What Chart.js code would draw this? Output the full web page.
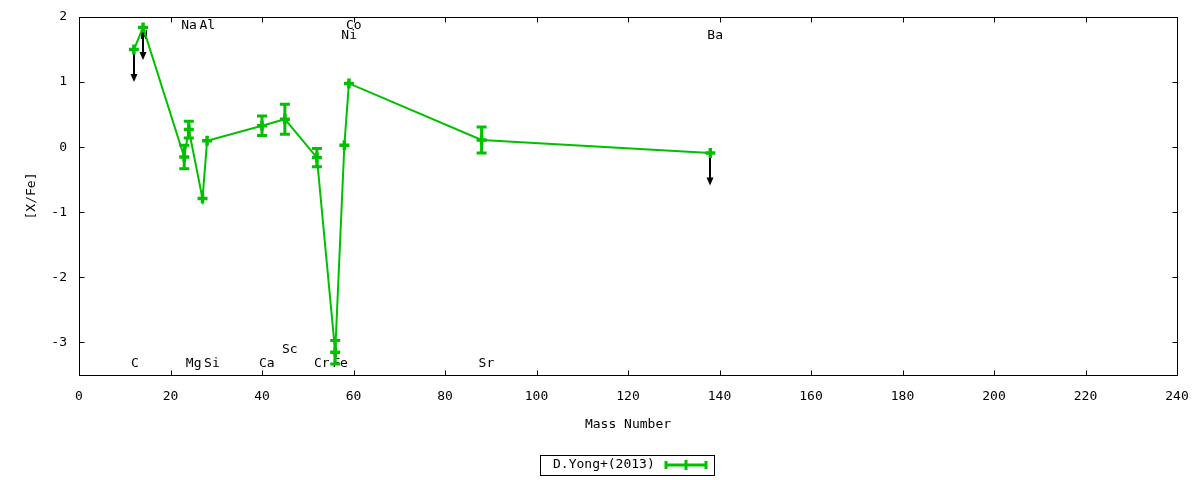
<!DOCTYPE html>
<html>
<head>
<meta charset="utf-8">
<script src="https://cdn.jsdelivr.net/npm/chart.js@4.4.1/dist/chart.umd.min.js"></script>
<style>
    html, body { margin: 0; padding: 0; background: #fff; }
</style>
</head>
<body>
<canvas id="abundChart" width="1200" height="480"></canvas>
<script>
// abundances, D.Yong+(2013)
var elements   = ['C', 'N', 'Na', 'Mg', 'Al', 'Si', 'Ca', 'Sc', 'Cr', 'Fe', 'Ni', 'Co', 'Sr', 'Ba'];
var massNumber = [12, 14, 23, 24, 27, 28, 40, 45, 52, 56, 58, 59, 88, 138];
var xfe        = [1.50, 1.84, -0.15, 0.27, -0.79, 0.10, 0.33, 0.43, -0.16, -3.15, 0.03, 0.98, 0.11, -0.09];
var xfeErr     = [0, 0, 0.18, 0.13, 0, 0, 0.15, 0.23, 0.14, 0.18, 0, 0, 0.20, 0];
var upperLimit = [true, true, false, false, false, false, false, false, false, false, false, false, false, true];
var limitDrop  = 0.5;
// where the element names sit, in [X/Fe] units
var labelY     = [-3.33, 1.72, 1.87, -3.33, 1.87, -3.33, -3.33, -3.11, -3.33, -3.33, 1.72, 1.87, -3.33, 1.72];
var xTicks     = [0, 20, 40, 60, 80, 100, 120, 140, 160, 180, 200, 220, 240];
var yTicks     = [-3, -2, -1, 0, 1, 2];
var seriesName = 'D.Yong+(2013)';

var green = '#00c000';
var monoFont = '"DejaVu Sans Mono", "Liberation Mono", monospace';

var points = massNumber.map(function (a, i) { return {x: a, y: xfe[i]}; });

var gnuplotLook = {
    id: 'gnuplotLook',
    beforeDatasetsDraw: function (chart) {
        var ctx = chart.ctx, sx = chart.scales.x, sy = chart.scales.y;
        ctx.save();
        // element names
        ctx.font = '13px ' + monoFont;
        ctx.fillStyle = '#000';
        ctx.textAlign = 'left';
        ctx.textBaseline = 'middle';
        elements.forEach(function (el, i) {
            ctx.fillText(el, sx.getPixelForValue(massNumber[i]) - 3, sy.getPixelForValue(labelY[i]));
        });
        // upper limit arrows
        ctx.strokeStyle = '#000';
        ctx.fillStyle = '#000';
        ctx.lineWidth = 2;
        for (var i = 0; i < massNumber.length; i++) {
            if (!upperLimit[i]) continue;
            var px = Math.round(sx.getPixelForValue(massNumber[i]));
            var y0 = sy.getPixelForValue(xfe[i]);
            var y1 = sy.getPixelForValue(xfe[i] - limitDrop);
            ctx.beginPath();
            ctx.moveTo(px, y0);
            ctx.lineTo(px, y1 - 6);
            ctx.stroke();
            ctx.beginPath();
            ctx.moveTo(px - 3.5, y1 - 8);
            ctx.lineTo(px + 3.5, y1 - 8);
            ctx.lineTo(px, y1);
            ctx.closePath();
            ctx.fill();
        }
        // error bars
        ctx.strokeStyle = green;
        ctx.lineWidth = 3;
        for (var j = 0; j < massNumber.length; j++) {
            if (!xfeErr[j]) continue;
            var ex = sx.getPixelForValue(massNumber[j]);
            var top = sy.getPixelForValue(xfe[j] + xfeErr[j]);
            var bot = sy.getPixelForValue(xfe[j] - xfeErr[j]);
            ctx.beginPath();
            ctx.moveTo(ex, top); ctx.lineTo(ex, bot);
            ctx.moveTo(ex - 5, top); ctx.lineTo(ex + 5, top);
            ctx.moveTo(ex - 5, bot); ctx.lineTo(ex + 5, bot);
            ctx.stroke();
        }
        ctx.restore();
    },
    afterDraw: function (chart) {
        var ctx = chart.ctx, a = chart.chartArea, sx = chart.scales.x, sy = chart.scales.y;
        ctx.save();
        ctx.strokeStyle = '#000';
        ctx.lineWidth = 1;
        var l = Math.round(a.left) + 0.5, r = Math.round(a.right) + 0.5;
        var t = Math.round(a.top) + 0.5, b = Math.round(a.bottom) + 0.5;
        ctx.strokeRect(l, t, r - l, b - t);
        // inward ticks, mirrored
        ctx.beginPath();
        xTicks.forEach(function (v) {
            var px = Math.round(sx.getPixelForValue(v)) + 0.5;
            ctx.moveTo(px, b); ctx.lineTo(px, b - 5);
            ctx.moveTo(px, t); ctx.lineTo(px, t + 5);
        });
        yTicks.forEach(function (v) {
            var py = Math.round(sy.getPixelForValue(v)) + 0.5;
            ctx.moveTo(l, py); ctx.lineTo(l + 5, py);
            ctx.moveTo(r, py); ctx.lineTo(r - 5, py);
        });
        ctx.stroke();
        // key box
        ctx.strokeRect(540.5, 455.5, 174, 20);
        ctx.font = '13px ' + monoFont;
        ctx.fillStyle = '#000';
        ctx.textAlign = 'left';
        ctx.textBaseline = 'middle';
        ctx.fillText(seriesName, 553, 465);
        ctx.strokeStyle = green;
        ctx.lineWidth = 3;
        ctx.beginPath();
        ctx.moveTo(665, 465); ctx.lineTo(707, 465);
        ctx.moveTo(666, 461); ctx.lineTo(666, 469);
        ctx.moveTo(706, 461); ctx.lineTo(706, 469);
        ctx.moveTo(686, 460); ctx.lineTo(686, 470);
        ctx.stroke();
        ctx.restore();
    }
};

new Chart(document.getElementById('abundChart').getContext('2d'), {
    type: 'scatter',
    data: {
        datasets: [{
            label: seriesName,
            data: points,
            showLine: true,
            borderColor: green,
            borderWidth: 2,
            backgroundColor: green,
            pointStyle: 'cross',
            pointRadius: 5,
            pointBorderWidth: 3.5,
            pointBorderColor: green,
            tension: 0
        }]
    },
    options: {
        responsive: false,
        animation: false,
        devicePixelRatio: 1,
        layout: { padding: { left: 20, right: 23, top: 17, bottom: 44 } },
        plugins: {
            legend: { display: false },
            tooltip: { enabled: false }
        },
        scales: {
            x: {
                type: 'linear',
                min: 0,
                max: 240,
                afterBuildTicks: function (s) { s.ticks = xTicks.map(function (v) { return {value: v}; }); },
                afterFit: function (s) { s.height = 61; s.paddingLeft = 0; s.paddingRight = 0; },
                grid: { display: false, drawTicks: false },
                border: { display: false },
                ticks: { color: '#000', padding: 14, font: { family: monoFont, size: 13 }, maxRotation: 0 },
                title: { display: true, text: 'Mass Number', color: '#000', font: { family: monoFont, size: 13 } }
            },
            y: {
                type: 'linear',
                min: -3.5,
                max: 2,
                afterBuildTicks: function (s) { s.ticks = yTicks.map(function (v) { return {value: v}; }); },
                afterFit: function (s) { s.width = 59; s.paddingTop = 0; s.paddingBottom = 0; },
                grid: { display: false, drawTicks: false },
                border: { display: false },
                ticks: { color: '#000', padding: 12, font: { family: monoFont, size: 13 } },
                title: { display: true, text: '[X/Fe]', color: '#000', font: { family: monoFont, size: 13 } }
            }
        }
    },
    plugins: [gnuplotLook]
});
</script>
</body>
</html>
